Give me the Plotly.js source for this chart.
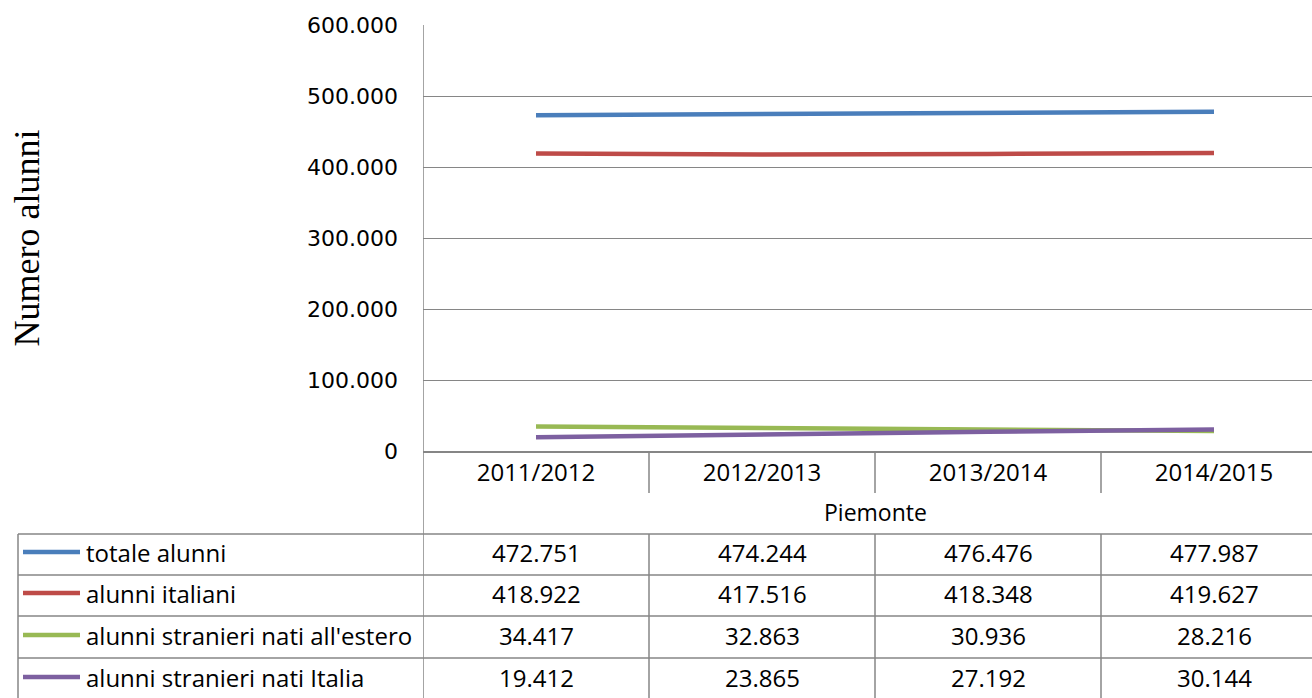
<!DOCTYPE html>
<html>
<head>
<meta charset="utf-8">
<script src="https://cdn.plot.ly/plotly-3.0.1.min.js"></script>
<style>html,body{margin:0;padding:0;background:#fff;}#chart{width:1312px;height:698px;}</style>
</head>
<body>
<div id="chart"></div>
<script>
// ---- data ----
const categories = ['2011/2012', '2012/2013', '2013/2014', '2014/2015'];
const seriesNames = ['totale alunni', 'alunni italiani', "alunni stranieri nati all'estero", 'alunni stranieri nati Italia'];
const totaleAlunni = [472751, 474244, 476476, 477987];
const alunniItaliani = [418922, 417516, 418348, 419627];
const stranieriEstero = [34417, 32863, 30936, 28216];
const stranieriItalia = [19412, 23865, 27192, 30144];
const yTicks = [0, 100000, 200000, 300000, 400000, 500000, 600000];
const groupLabel = 'Piemonte';
const yTitle = 'Numero alunni';

// ---- styles ----
const colors = ['#4A7EBB', '#BE4B48', '#98B954', '#7D60A0'];
const seriesValues = [totaleAlunni, alunniItaliani, stranieriEstero, stranieriItalia];
const gridColor = '#868686';

// layout geometry (pixels)
const W = 1312, H = 698;
const plotL = 423, plotT = 25, plotB = 451;
const plotW = W - plotL, plotH = plotB - plotT;
const px = x => (x - plotL) / plotW;
const py = y => (plotB - y) / plotH;
const rowLines = [534, 575, 616, 658];
const rowCenters = [552, 593, 635, 677];

function fmt(n) {
  return String(n).replace(/\B(?=(\d{3})+(?!\d))/g, '.');
}

const traces = seriesValues.map((vals, i) => ({
  type: 'scatter', mode: 'lines', name: seriesNames[i],
  x: categories, y: vals,
  line: {color: colors[i], width: 4.5},
  hoverinfo: 'x+y+name'
}));

const shapes = [];
const annotations = [];
const lineStyle = {color: gridColor, width: 1.5};

// left border of plot / table
shapes.push({type: 'line', xref: 'x', yref: 'paper', x0: -0.5, x1: -0.5, y0: 1, y1: py(H), line: lineStyle});
// category separators under the axis
[0.5, 1.5, 2.5].forEach(xv => {
  shapes.push({type: 'line', xref: 'x', yref: 'paper', x0: xv, x1: xv, y0: 0, y1: py(493), line: lineStyle});
  shapes.push({type: 'line', xref: 'x', yref: 'paper', x0: xv, x1: xv, y0: py(rowLines[0]), y1: py(H), line: lineStyle});
});
// table horizontal lines
rowLines.forEach(yl => {
  shapes.push({type: 'line', xref: 'paper', yref: 'paper', x0: px(18), x1: 1.05, y0: py(yl), y1: py(yl), line: lineStyle});
});
// table left border
shapes.push({type: 'line', xref: 'paper', yref: 'paper', x0: px(18), x1: px(18), y0: py(rowLines[0]), y1: py(H), line: lineStyle});

// group label
annotations.push({xref: 'x', yref: 'paper', x: 1.5, y: py(512), text: groupLabel, showarrow: false,
  xanchor: 'center', yanchor: 'middle', font: {family: 'Open Sans', size: 23, color: '#000'}});

// table rows
seriesValues.forEach((vals, i) => {
  const yc = py(rowCenters[i]);
  shapes.push({type: 'line', xref: 'paper', yref: 'paper', x0: px(23), x1: px(80), y0: yc, y1: yc,
    line: {color: colors[i], width: 4.5}});
  annotations.push({xref: 'paper', yref: 'paper', x: px(84), y: yc, text: seriesNames[i], showarrow: false,
    xanchor: 'left', yanchor: 'middle', font: {family: 'Open Sans', size: 24, color: '#000'}});
  vals.forEach((v, j) => {
    annotations.push({xref: 'x', yref: 'paper', x: categories[j], y: yc, text: fmt(v), showarrow: false,
      xanchor: 'center', yanchor: 'middle', font: {family: 'Open Sans', size: 24, color: '#000'}});
  });
});

const layout = {
  width: W, height: H,
  margin: {l: plotL, r: 0, t: plotT, b: H - plotB, pad: 0},
  paper_bgcolor: '#fff', plot_bgcolor: '#fff',
  showlegend: false,
  separators: ',.',
  xaxis: {
    type: 'category', categoryarray: categories, range: [-0.5, -0.5 + plotW / 226],
    showgrid: false, zeroline: false, showline: true, linecolor: gridColor, linewidth: 1.5,
    ticks: '', tickfont: {family: 'Open Sans', size: 24, color: '#000'}, fixedrange: true
  },
  yaxis: {
    range: [0, 600000], tickvals: yTicks, tickformat: ',d',
    showgrid: true, gridcolor: gridColor, gridwidth: 1, zeroline: false, showline: false,
    ticks: '', ticklabelstandoff: 24,
    tickfont: {family: 'DejaVu Sans', size: 22, color: '#000'},
    title: {text: yTitle, font: {family: 'Liberation Serif', size: 36, color: '#000'}, standoff: 256},
    fixedrange: true
  },
  shapes: shapes,
  annotations: annotations
};

Plotly.newPlot('chart', traces, layout, {displayModeBar: false, staticPlot: true});
</script>
</body>
</html>
